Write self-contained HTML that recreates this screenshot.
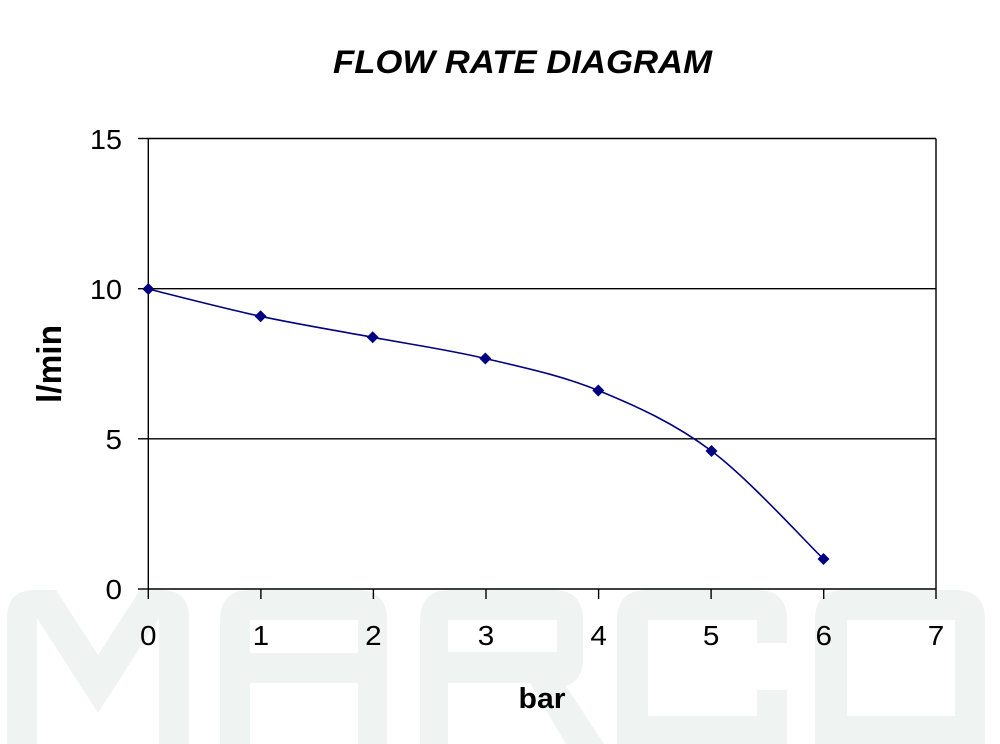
<!DOCTYPE html>
<html>
<head>
<meta charset="utf-8">
<style>
html,body{margin:0;padding:0;background:#fff;}
svg{display:block;}
text{font-family:"Liberation Sans",Arial,sans-serif;fill:#000;}
</style>
</head>
<body>
<svg width="1000" height="744" viewBox="0 0 1000 744" xmlns="http://www.w3.org/2000/svg">
  <!-- watermark MARCO -->
  <g fill="#eff3f1" fill-rule="evenodd">
    <path d="M7,744 L7,618 Q7,590 35,590 L56,590 L98,655 L140,590 L161,590 Q189,590 189,618 L189,744 L159,744 L159,618 L98,713 L37,618 L37,744 Z"/>
    <path d="M220,744 L220,620 Q220,590 250,590 L357,590 Q387,590 387,620 L387,744 L358,744 L358,683 L250,683 L250,744 Z M250,620 L358,620 L358,653 L250,653 Z"/>
    <path d="M420,744 L420,620 Q420,590 450,590 L553,590 Q583,590 583,620 L583,660 Q583,680 566,686 L604,744 L566,744 L530,683 L448,683 L448,744 Z M448,620 L557,620 L557,652 L448,652 Z"/>
    <path d="M617,744 L617,620 Q617,590 647,590 L757,590 Q787,590 787,620 L787,643 L757,643 L757,620 L648,620 L648,716 L757,716 L757,690 L787,690 L787,744 Z"/>
    <path d="M815,744 L815,620 Q815,590 845,590 L955,590 Q985,590 985,620 L985,744 Z M847,620 L955,620 L955,716 L847,716 Z"/>
  </g>

  <!-- title -->
  <text x="522.5" y="73" font-size="32" font-weight="bold" font-style="italic" text-anchor="middle" textLength="379" lengthAdjust="spacingAndGlyphs">FLOW RATE DIAGRAM</text>

  <!-- plot frame and grid -->
  <g stroke="#000" stroke-width="1.4" fill="none">
    <line x1="148.3" y1="138.5" x2="936" y2="138.5"/>
    <line x1="936" y1="138.5" x2="936" y2="589"/>
    <line x1="148.3" y1="288.7" x2="936" y2="288.7"/>
    <line x1="148.3" y1="438.8" x2="936" y2="438.8"/>
    <line x1="148.3" y1="138.5" x2="148.3" y2="589"/>
    <line x1="148.3" y1="589" x2="936" y2="589"/>
    <line x1="138" y1="138.5" x2="148.3" y2="138.5"/>
    <line x1="138" y1="288.7" x2="148.3" y2="288.7"/>
    <line x1="138" y1="438.8" x2="148.3" y2="438.8"/>
    <line x1="138" y1="589" x2="148.3" y2="589"/>
    <line x1="148.3" y1="589" x2="148.3" y2="599"/>
    <line x1="260.9" y1="589" x2="260.9" y2="599"/>
    <line x1="373.4" y1="589" x2="373.4" y2="599"/>
    <line x1="486" y1="589" x2="486" y2="599"/>
    <line x1="598.6" y1="589" x2="598.6" y2="599"/>
    <line x1="711.1" y1="589" x2="711.1" y2="599"/>
    <line x1="823.7" y1="589" x2="823.7" y2="599"/>
    <line x1="936" y1="589" x2="936" y2="599"/>
  </g>

  <!-- y labels -->
  <g font-size="28" text-anchor="end">
    <text x="122" y="149" textLength="32" lengthAdjust="spacingAndGlyphs">15</text>
    <text x="122" y="299" textLength="32" lengthAdjust="spacingAndGlyphs">10</text>
    <text transform="translate(122,449) scale(1.06,1)">5</text>
    <text transform="translate(122,599) scale(1.06,1)">0</text>
  </g>

  <!-- x labels -->
  <g font-size="28" text-anchor="middle">
    <text transform="translate(148.3,645) scale(1.06,1)">0</text>
    <text transform="translate(260.9,645) scale(1.06,1)">1</text>
    <text transform="translate(373.4,645) scale(1.06,1)">2</text>
    <text transform="translate(486,645) scale(1.06,1)">3</text>
    <text transform="translate(598.6,645) scale(1.06,1)">4</text>
    <text transform="translate(711.1,645) scale(1.06,1)">5</text>
    <text transform="translate(823.7,645) scale(1.06,1)">6</text>
    <text transform="translate(936,645) scale(1.06,1)">7</text>
  </g>

  <!-- axis titles -->
  <text x="542" y="708" font-size="29" font-weight="bold" text-anchor="middle" textLength="47" lengthAdjust="spacingAndGlyphs">bar</text>
  <text transform="translate(61,364) rotate(-90)" font-size="34" font-weight="bold" text-anchor="middle" textLength="78" lengthAdjust="spacingAndGlyphs">l/min</text>

  <!-- series -->
  <path d="M148.3,289 C167.0,293.55 223.2,308.25 260.6,316.3 C298.0,324.35 335.25,330.27 372.7,337.3 C410.15,344.33 447.7,349.63 485.3,358.5 C522.9,367.37 560.6,375.08 598.3,390.5 C636.0,405.92 673.97,422.92 711.5,451 C749.03,479.08 804.83,541 823.5,559"
        fill="none" stroke="#000080" stroke-width="1.6"/>
  <g fill="#000080">
    <polygon points="148.3,283 154.3,289 148.3,295 142.3,289"/>
    <polygon points="260.6,310.3 266.6,316.3 260.6,322.3 254.6,316.3"/>
    <polygon points="372.7,331.3 378.7,337.3 372.7,343.3 366.7,337.3"/>
    <polygon points="485.3,352.5 491.3,358.5 485.3,364.5 479.3,358.5"/>
    <polygon points="598.3,384.5 604.3,390.5 598.3,396.5 592.3,390.5"/>
    <polygon points="711.5,445 717.5,451 711.5,457 705.5,451"/>
    <polygon points="823.5,553 829.5,559 823.5,565 817.5,559"/>
  </g>
</svg>
</body>
</html>
